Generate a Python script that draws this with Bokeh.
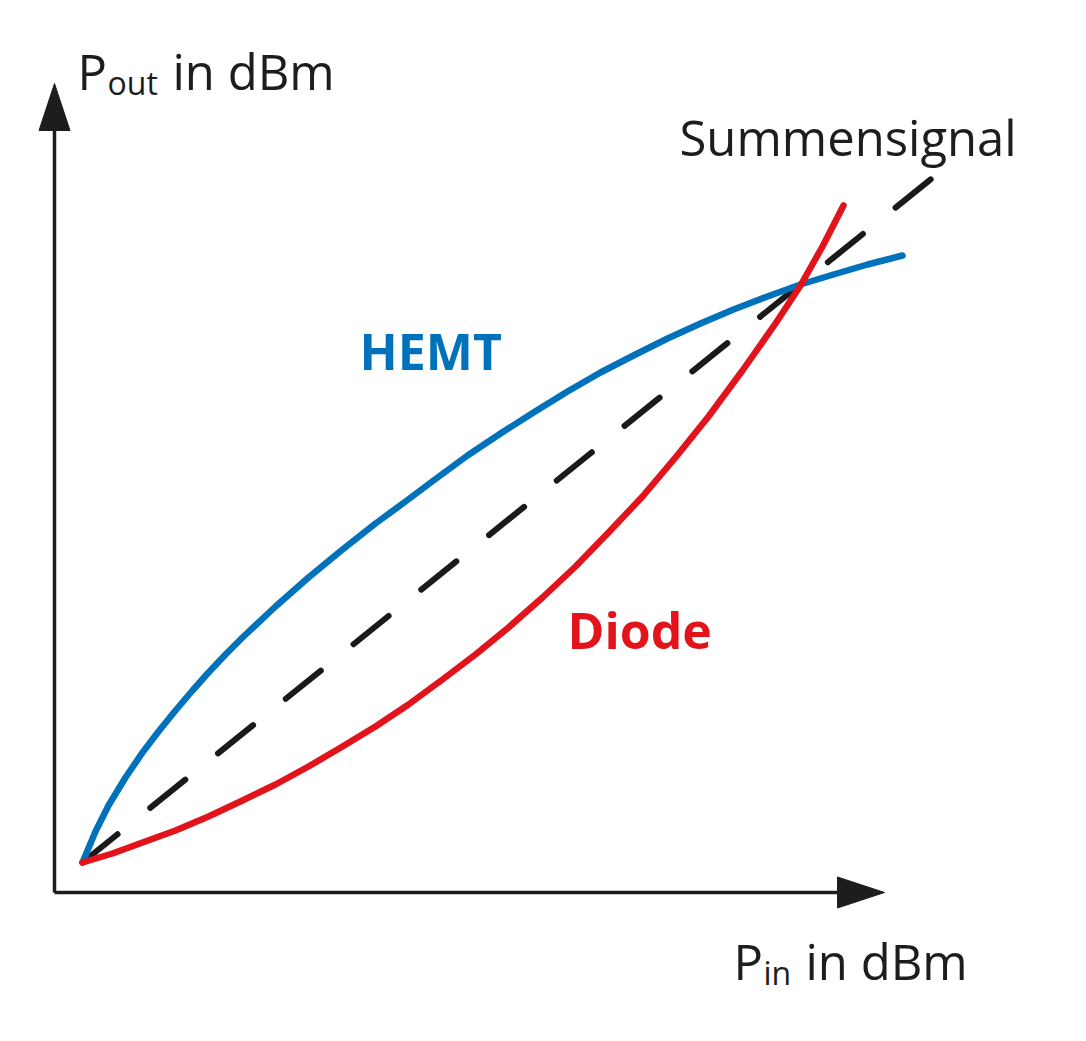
from bokeh.plotting import figure
from bokeh.models import Range1d
from bokeh.core.properties import value
from bokeh.embed import file_html
from bokeh.resources import INLINE

# ---- data (arbitrary dBm units, origin at axis crossing) ----
hemt_pin  = [2.8, 4.1, 5.4, 7.1, 8.8, 10.4, 12.1, 13.8, 15.4, 17.1, 18.8, 22.1,
             25.4, 28.8, 32.1, 35.1, 37.9, 41.3, 44.6, 47.9, 51.3, 54.6, 57.9,
             61.3, 64.6, 67.9, 71.3, 74.6, 77.9, 81.3, 84.8]
hemt_pout = [3.0, 6.1, 8.7, 11.5, 14.0, 16.1, 18.2, 20.2, 22.0, 23.8, 25.5, 28.6,
             31.5, 34.3, 36.9, 39.1, 41.2, 43.7, 45.9, 48.0, 50.1, 52.0, 53.7,
             55.4, 56.9, 58.3, 59.6, 60.8, 61.8, 62.8, 63.7]

diode_pin  = [2.8, 5.8, 8.8, 12.1, 15.4, 18.8, 22.1, 25.4, 28.8, 32.1, 35.4, 38.8,
              42.1, 45.4, 48.8, 52.1, 55.4, 58.8, 62.1, 65.4, 68.8, 72.1, 74.6,
              76.8, 78.9]
diode_pout = [3.0, 3.9, 5.0, 6.2, 7.6, 9.2, 10.8, 12.6, 14.6, 16.6, 18.8, 21.3,
              23.8, 26.5, 29.5, 32.6, 36.0, 39.6, 43.5, 47.6, 52.2, 56.9, 60.7,
              64.6, 68.7]

sum_pin  = [2.8, 88.1]
sum_pout = [3.0, 71.7]

# axes geometry (schematic axes with arrow heads)
x_axis_end = 78.3
y_axis_end = 76.2
head_len = 4.7
head_half = 1.55

BLUE = "#0072BC"
RED = "#E3131B"
DARK = "#1d1d1b"
FONT = value("Open Sans")

p = figure(width=1070, height=1025, output_backend="svg", toolbar_location=None,
           x_range=Range1d(-5.4, 101.6), y_range=Range1d(-13.3, 89.2),
           min_border=0)
p.axis.visible = False
p.grid.visible = False
p.outline_line_color = None
p.background_fill_color = "white"
p.border_fill_color = "white"

# axes
p.line([0, 0], [0, y_axis_end], line_color=DARK, line_width=3.5)
p.line([0, x_axis_end], [0, 0], line_color=DARK, line_width=3.5)
p.patch([-head_half, head_half, 0], [y_axis_end, y_axis_end, y_axis_end + head_len],
        fill_color=DARK, line_color=DARK, line_width=1)
p.patch([x_axis_end, x_axis_end, x_axis_end + head_len], [-head_half, head_half, 0],
        fill_color=DARK, line_color=DARK, line_width=1)

# curves
p.line(sum_pin, sum_pout, line_color="#1a1a1a", line_width=6, line_dash="45 42",
       line_cap="round")
p.line(hemt_pin, hemt_pout, line_color=BLUE, line_width=6.5, line_cap="round",
       line_join="round")
p.line(diode_pin, diode_pout, line_color=RED, line_width=6.5, line_cap="round",
       line_join="round")

# labels
def txt(x, y, s, size, color=DARK, style="normal"):
    p.text(x=[x], y=[y], text=[s], text_font=FONT, text_font_size=size,
           text_color=color, text_font_style=style, text_align="left",
           text_baseline="alphabetic")

txt(2.3, 82.2, "P", "49px")
txt(5.3, 81.0, "out", "32px")
txt(11.8, 82.2, "in dBm", "49px")

txt(67.9, -6.8, "P", "49px")
txt(70.9, -8.0, "in", "32px")
txt(75.1, -6.8, "in dBm", "49px")

txt(62.5, 75.6, "Summensignal", "49px")
txt(30.5, 54.2, "HEMT", "50px", BLUE, "bold")
txt(51.3, 26.3, "Diode", "50px", RED, "bold")

open("out.html", "w").write(file_html(p, INLINE))
